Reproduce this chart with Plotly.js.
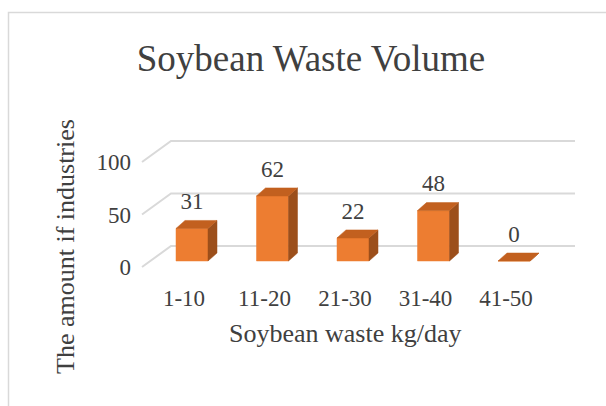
<!DOCTYPE html>
<html>
<head>
<meta charset="utf-8">
<script src="https://cdn.plot.ly/plotly-3.0.1.min.js"></script>
<style>html,body{margin:0;padding:0;background:#fff;}#chart{width:606px;height:406px;}</style>
</head>
<body>
<div id="chart"></div>
<script>
// ---- data ----
const categories = ['1-10', '11-20', '21-30', '31-40', '41-50'];
const values = [31, 62, 22, 48, 0];
const yTickValues = [0, 50, 100];
const titleText = 'Soybean Waste Volume';
const xTitleText = 'Soybean waste kg/day';
const yTitleText = 'The amount if industries';

// ---- geometry (pixels) ----
const L = 132, R = 590, T = 100, B = 282;   // plot area
const X0PX = 184, PX_PER_CAT = 80.5;         // category 0 position on the floor front
const Y0PX = 267, PX_PER_UNIT = 1.05;        // value 0 on the floor front
const toX = px => (px - X0PX) / PX_PER_CAT;
const dX = px => px / PX_PER_CAT;
const dY = px => px / PX_PER_UNIT;
const xRange = [toX(L), toX(R)];
const yRange = [(Y0PX - B) / PX_PER_UNIT, (Y0PX - T) / PX_PER_UNIT];
const paperX = px => (px - L) / (R - L);
const paperY = py => (B - py) / (B - T);

const FONT = 'Liberation Serif, Times New Roman, serif';
const TXT = '#404040';
const GRID = '#d9d9d9';
const FRONT = '#ED7D31', TOP = '#C2601F', SIDE = '#9C4F1B';

// bar 3D offsets (pixels)
const FRONT_OFF = [8, 6];    // floor front -> bar front
const DEPTH = [9, 8];        // bar depth
const WALL = [29, 21];       // floor front -> back wall
const HALF_W = 16;

const traces = [];

// back-wall gridlines with the diagonal floor edge
yTickValues.forEach(v => {
  traces.push({
    type: 'scatter', mode: 'lines',
    x: [toX(142), toX(142) + dX(WALL[0]), toX(575)],
    y: [v, v + dY(WALL[1]), v + dY(WALL[1])],
    line: {color: GRID, width: 2},
    hoverinfo: 'skip', showlegend: false
  });
});

// bars as three faces
values.forEach((v, i) => {
  const xl = i + dX(FRONT_OFF[0] - HALF_W);
  const xr = i + dX(FRONT_OFF[0] + HALF_W);
  const yb = dY(FRONT_OFF[1]);
  const yt = v + yb;
  const ddx = dX(DEPTH[0]), ddy = dY(DEPTH[1]);
  const face = (xs, ys, c) => traces.push({
    type: 'scatter', mode: 'lines', fill: 'toself', fillcolor: c,
    x: xs, y: ys, line: {color: c, width: 0.5},
    hoverinfo: 'skip', showlegend: false
  });
  face([xl, xr, xr, xl, xl], [yb, yb, yt, yt, yb], FRONT);
  face([xr, xr + ddx, xr + ddx, xr, xr], [yb, yb + ddy, yt + ddy, yt, yb], SIDE);
  face([xl, xr, xr + ddx, xl + ddx, xl], [yt, yt, yt + ddy, yt + ddy, yt], TOP);
});

// data labels
traces.push({
  type: 'scatter', mode: 'text',
  x: values.map((v, i) => i + dX(FRONT_OFF[0])),
  y: values.map(v => v + dY(FRONT_OFF[1] + DEPTH[1] + 17)),
  text: values.map(String),
  textposition: 'middle center',
  textfont: {family: FONT, size: 23, color: TXT},
  hoverinfo: 'skip', showlegend: false, cliponaxis: false
});

const layout = {
  width: 606, height: 406,
  margin: {l: L, r: 606 - R, t: T, b: 406 - B, pad: 0},
  paper_bgcolor: '#fff', plot_bgcolor: '#fff',
  showlegend: false,
  title: {
    text: titleText,
    font: {family: FONT, size: 37, color: TXT},
    x: 311 / 606, xanchor: 'center', xref: 'container',
    y: 1 - 58 / 406, yanchor: 'middle', yref: 'container'
  },
  xaxis: {
    range: xRange, fixedrange: true,
    tickmode: 'array', tickvals: categories.map((c, i) => i), ticktext: categories,
    showgrid: false, zeroline: false, showline: false, ticks: '',
    tickfont: {family: FONT, size: 23, color: TXT}
  },
  yaxis: {
    range: yRange, fixedrange: true,
    tickmode: 'array', tickvals: yTickValues, ticktext: yTickValues.map(String),
    showgrid: false, zeroline: false, showline: false, ticks: '',
    tickfont: {family: FONT, size: 23, color: TXT}
  },
  annotations: [
    {text: xTitleText, xref: 'paper', yref: 'paper', x: paperX(345), y: paperY(333),
     xanchor: 'center', yanchor: 'middle', showarrow: false,
     font: {family: FONT, size: 26, color: TXT}},
    {text: yTitleText, xref: 'paper', yref: 'paper', x: paperX(65), y: paperY(247),
     xanchor: 'center', yanchor: 'middle', showarrow: false, textangle: -90,
     font: {family: FONT, size: 26, color: TXT}}
  ],
  shapes: [
    {type: 'path', xref: 'paper', yref: 'paper', layer: 'below',
     path: `M ${paperX(8.5)} ${paperY(420)} L ${paperX(8.5)} ${paperY(12.5)} L ${paperX(620)} ${paperY(12.5)}`,
     line: {color: GRID, width: 1.5}}
  ]
};

Plotly.newPlot('chart', traces, layout, {displayModeBar: false, staticPlot: true});
</script>
</body>
</html>
